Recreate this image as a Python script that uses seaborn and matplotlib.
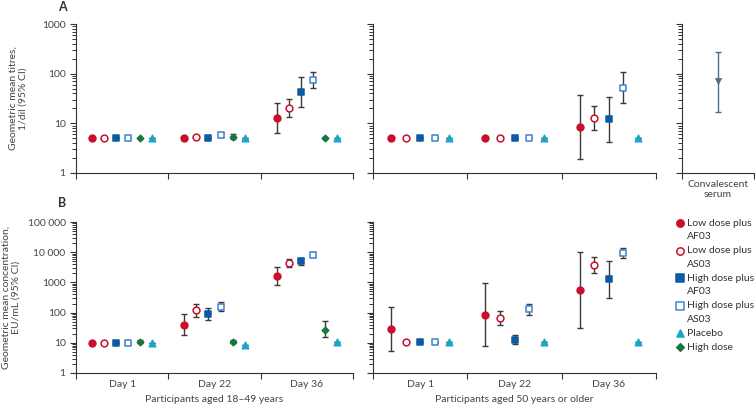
import numpy as np
import pandas as pd
import matplotlib
matplotlib.use("Agg")
import matplotlib.pyplot as plt
from matplotlib.ticker import LogLocator, NullFormatter, FixedLocator
import seaborn as sns

sns.set_style("ticks")
plt.rcParams['font.family'] = ['Lato', 'DejaVu Sans']

# данные
days = ['Day 1', 'Day 22', 'Day 36']
groups_young = ['Low dose plus AF03', 'Low dose plus AS03', 'High dose plus AF03',
                'High dose plus AS03', 'High dose', 'Placebo']
groups_old = ['Low dose plus AF03', 'Low dose plus AS03', 'High dose plus AF03',
              'High dose plus AS03', 'Placebo']

# A: титры, 18-49 лет (по дням, по группам)
a_young_gmt = [[5, 5, 5, 5, 5, 5], [5, 5.3, 5, 5.8, 5.4, 5], [13, 20, 43, 74, 5, 5]]
a_young_lo = [[5, 5, 5, 5, 5, 5], [5, 5.3, 5, 5.2, 4.8, 5], [6.5, 13.4, 21, 51, 5, 5]]
a_young_hi = [[5, 5, 5, 5, 5, 5], [5, 5.3, 5, 6.5, 6.0, 5], [26, 31, 87, 110, 5, 5]]

# A: титры, 50+ лет
a_old_gmt = [[5, 5, 5, 5, 5], [5, 5, 5, 5, 5], [8.5, 12.8, 12.2, 52, 5]]
a_old_lo = [[5, 5, 5, 5, 5], [5, 5, 5, 5, 5], [1.9, 7.2, 4.3, 25.6, 5]]
a_old_hi = [[5, 5, 5, 5, 5], [5, 5, 5, 5, 5], [38, 22.6, 34, 106, 5]]

# B: концентрация, 18-49 лет
b_young_gmt = [[10, 10, 10, 10, 11, 10], [40, 118, 90, 153, 10.9, 8.6], [1580, 4400, 5000, 8300, 27, 11]]
b_young_lo = [[10, 10, 10, 10, 9.5, 10], [17.6, 73, 57, 110, 9.8, 8.6], [795, 3300, 3900, 6700, 15, 11]]
b_young_hi = [[10, 10, 10, 10, 12.5, 10], [92, 190, 145, 224, 12.2, 8.6], [3240, 5800, 6600, 10000, 51, 11]]

# B: концентрация, 50+ лет
b_old_gmt = [[28, 11, 11, 11, 11], [85, 66, 12.7, 132, 11], [560, 3650, 1260, 9400, 11]]
b_old_lo = [[5.2, 11, 11, 11, 11], [7.6, 39, 9.1, 85, 11], [31, 2050, 305, 6450, 11]]
b_old_hi = [[149, 11, 11, 11, 11], [930, 115, 18, 196, 11], [10000, 6700, 5200, 13800, 11]]

# сыворотка реконвалесцентов
conv_gmt = 71
conv_lo = 17
conv_hi = 270

# порядок легенды
legend_order = ['Low dose plus AF03', 'Low dose plus AS03', 'High dose plus AF03',
                'High dose plus AS03', 'Placebo', 'High dose']

styles = {
    'Low dose plus AF03': dict(marker='o', fc='#c8102e', ec='#c8102e'),
    'Low dose plus AS03': dict(marker='o', fc='white', ec='#c8102e'),
    'High dose plus AF03': dict(marker='s', fc='#0b5aa2', ec='#0b5aa2'),
    'High dose plus AS03': dict(marker='s', fc='white', ec='#3f82cc'),
    'Placebo': dict(marker='^', fc='#1aa6c8', ec='#1aa6c8'),
    'High dose': dict(marker='D', fc='#17773c', ec='#17773c'),
}
sizes = {'o': 24, 's': 22, '^': 22, 'D': 11}


def to_df(gmt, lo, hi, groups, step):
    rows = []
    for d, day in enumerate(days):
        for g, grp in enumerate(groups):
            off = (g - (len(groups) - 1) / 2) * step
            rows.append(dict(day=day, group=grp, x=d + 0.5 + off,
                             gmt=gmt[d][g], lo=lo[d][g], hi=hi[d][g]))
    return pd.DataFrame(rows)


def fmt_num(t):
    t = int(t)
    return f'{t:,}'.replace(',', ' ') if t >= 10000 else str(t)


def style_axis(ax, ymax, show_labels, xlabel='', ticklabels=True):
    ax.set_yscale('log')
    ax.set_ylim(1, ymax)
    ax.set_xlim(0, 3)
    ticks = [10 ** k for k in range(int(round(np.log10(ymax))) + 1)]
    ax.set_yticks(ticks)
    ax.yaxis.set_minor_locator(LogLocator(base=10, subs=np.arange(2, 10), numticks=20))
    ax.yaxis.set_minor_formatter(NullFormatter())
    if show_labels:
        ax.set_yticklabels([fmt_num(t) for t in ticks])
    else:
        ax.tick_params(axis='y', labelleft=False)
    ax.xaxis.set_major_locator(FixedLocator([0, 1, 2, 3]))
    ax.set_xticklabels([])
    ax.xaxis.set_minor_locator(FixedLocator([0.5, 1.5, 2.5]))
    if ticklabels:
        ax.set_xticklabels(days, minor=True)
    ax.tick_params(axis='x', which='minor', length=0, pad=5)
    ax.tick_params(axis='both', which='major', length=4, width=0.8, color='#333333',
                   labelsize=7.5, labelcolor='#444444')
    ax.tick_params(axis='x', which='minor', labelsize=7.5, labelcolor='#444444')
    ax.tick_params(axis='y', which='minor', length=3, width=0.7, color='#333333')
    for s in ['top', 'right']:
        ax.spines[s].set_visible(False)
    for s in ['left', 'bottom']:
        ax.spines[s].set_color('#333333')
        ax.spines[s].set_linewidth(0.8)
    ax.set_xlabel(xlabel, fontsize=7.5, color='#444444', labelpad=4)
    ax.set_ylabel('')


def draw(ax, df):
    ax.errorbar(df['x'], df['gmt'],
                yerr=[df['gmt'] - df['lo'], df['hi'] - df['gmt']],
                fmt='none', ecolor='#3a3a3a', elinewidth=1, capsize=2.5, capthick=1, zorder=2)
    for grp, sub in df.groupby('group', sort=False):
        st = styles[grp]
        sns.scatterplot(data=sub, x='x', y='gmt', ax=ax, marker=st['marker'],
                        color=st['fc'], edgecolor=st['ec'], linewidth=1.1,
                        s=sizes[st['marker']], zorder=3, legend=False)


W, H = 756, 409
fig = plt.figure(figsize=(W / 100, H / 100), dpi=100)


def rect(x0, y0, x1, y1):
    return [x0 / W, 1 - y1 / H, (x1 - x0) / W, (y1 - y0) / H]


axA1 = fig.add_axes(rect(76, 24, 353, 173))
axA2 = fig.add_axes(rect(373, 24, 656, 173))
axC = fig.add_axes(rect(682, 24, 754, 173))
axB1 = fig.add_axes(rect(76, 222, 353, 373))
axB2 = fig.add_axes(rect(373, 222, 656, 373))

draw(axA1, to_df(a_young_gmt, a_young_lo, a_young_hi, groups_young, 0.13))
draw(axA2, to_df(a_old_gmt, a_old_lo, a_old_hi, groups_old, 0.155))
draw(axB1, to_df(b_young_gmt, b_young_lo, b_young_hi, groups_young, 0.13))
draw(axB2, to_df(b_old_gmt, b_old_lo, b_old_hi, groups_old, 0.155))

style_axis(axA1, 1000, True, ticklabels=False)
style_axis(axA2, 1000, False, ticklabels=False)
style_axis(axB1, 100000, True, xlabel='Participants aged 18–49 years')
style_axis(axB2, 100000, False, xlabel='Participants aged 50 years or older')

axA1.set_ylabel('Geometric mean titres,\n1/dil (95% CI)', fontsize=7.5, color='#444444', labelpad=10)
axB1.set_ylabel('Geometric mean concentration,\nEU/mL (95% CI)', fontsize=7.5, color='#444444', labelpad=5)

# панель сыворотки
conv = pd.DataFrame({'x': [0.5], 'gmt': [conv_gmt], 'lo': [conv_lo], 'hi': [conv_hi]})
axC.errorbar(conv['x'], conv['gmt'], yerr=[conv['gmt'] - conv['lo'], conv['hi'] - conv['gmt']],
             fmt='none', ecolor='#4d6e80', elinewidth=1, capsize=2.5, capthick=1)
sns.scatterplot(data=conv, x='x', y='gmt', ax=axC, marker='v', color='#4d6e80',
                edgecolor='#4d6e80', s=22, zorder=3, legend=False)
style_axis(axC, 1000, False, ticklabels=False)
axC.set_xlim(0, 1)
axC.xaxis.set_major_locator(FixedLocator([0, 1]))
axC.set_xticklabels([])
axC.xaxis.set_minor_locator(FixedLocator([0.5]))
axC.set_xticklabels(['Convalescent\nserum'], minor=True)

fig.text(62 / W, 1 - 7 / H, 'A', fontsize=9, fontweight='bold', color='#333333', ha='center', va='center')
fig.text(62 / W, 1 - 203 / H, 'B', fontsize=9, fontweight='bold', color='#333333', ha='center', va='center')

# легенда (строки по 13.8 px, подписи переносятся на две строки)
axL = fig.add_axes(rect(672, 216, 756, 356))
axL.axis('off')
axL.set_xlim(672, 756)
axL.set_ylim(356, 216)
row = 0
for key in legend_order:
    st = styles[key]
    y = 223 + row * 13.8
    axL.scatter([680], [y], marker=st['marker'], s=sizes[st['marker']] + 4,
                facecolor=st['fc'], edgecolor=st['ec'], linewidth=1.1, clip_on=False)
    words = key.split(' ')
    if len(words) > 2:
        first, second = ' '.join(words[:3]), ' '.join(words[3:])
        axL.text(687, y, first, fontsize=7.5, color='#333333', va='center', ha='left')
        axL.text(687, y + 13.8, second, fontsize=7.5, color='#333333', va='center', ha='left')
        row += 2
    else:
        axL.text(687, y, key, fontsize=7.5, color='#333333', va='center', ha='left')
        row += 1

fig.savefig('out.png', dpi=100)
